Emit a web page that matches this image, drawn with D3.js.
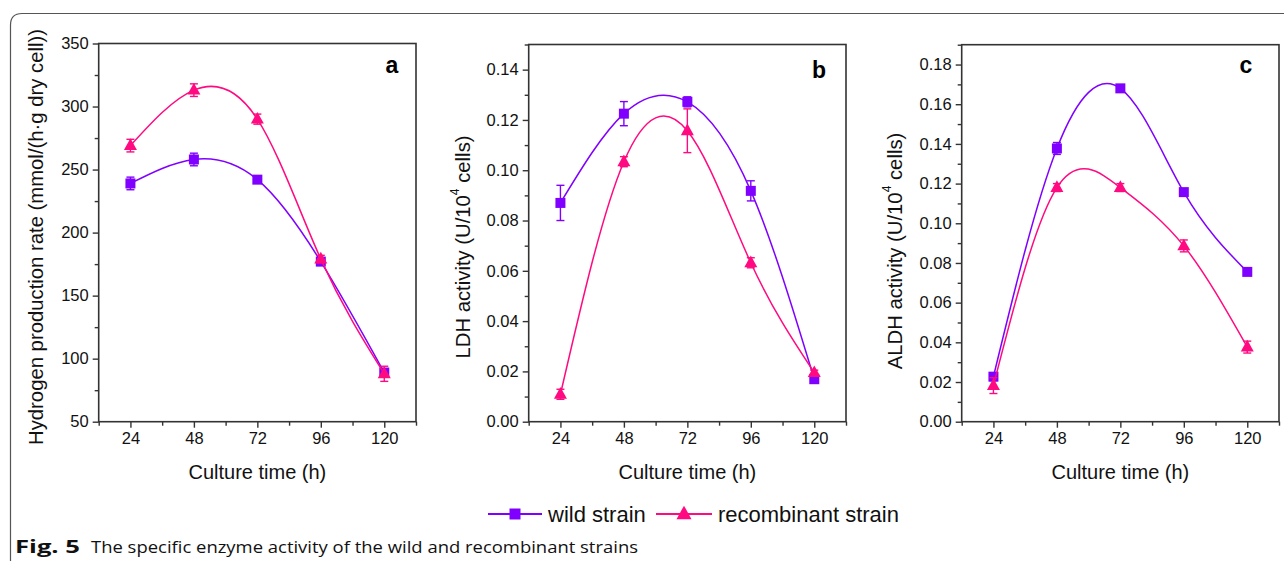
<!DOCTYPE html>
<html><head><meta charset="utf-8">
<script src="https://cdn.jsdelivr.net/npm/d3@7/dist/d3.min.js"></script>
<style>
html,body{margin:0;padding:0;background:#fff;}
svg{display:block;font-family:"Liberation Sans",Arial,sans-serif;}
</style></head>
<body>
<svg id="chart" width="1284" height="561"></svg>
<script>
// ---- data ----
const times = [24, 48, 72, 96, 120];
const xTickLabels = ["24", "48", "72", "96", "120"];
const seriesNames = ["wild strain", "recombinant strain"];

const h2Wild = [239, 258, 242, 177, 89];
const h2WildErr = [5, 5, 2, 3, 3];
const h2Rec = [269, 313, 290, 179, 88];
const h2RecErr = [5, 5, 4, 3, 6];

const ldhWild = [0.087, 0.1225, 0.1272, 0.0918, 0.0169];
const ldhWildErr = [0.007, 0.0048, 0.002, 0.004, 0.001];
const ldhRec = [0.0109, 0.1034, 0.1157, 0.0632, 0.0195];
const ldhRecErr = [0.002, 0.002, 0.0087, 0.002, 0.001];

const aldhWild = [0.0227, 0.1377, 0.168, 0.1157, 0.0755];
const aldhWildErr = [0.002, 0.003, 0.001, 0.001, 0.001];
const aldhRec = [0.0182, 0.118, 0.118, 0.0886, 0.0376];
const aldhRecErr = [0.004, 0.002, 0.002, 0.003, 0.003];

const yTicksA = [50, 100, 150, 200, 250, 300, 350];
const yTicksB = [0.00, 0.02, 0.04, 0.06, 0.08, 0.10, 0.12, 0.14];
const yTicksC = [0.00, 0.02, 0.04, 0.06, 0.08, 0.10, 0.12, 0.14, 0.16, 0.18];

// ---- styles ----
const WILD = "#8000ff", REC = "#ff0a80", AX = "#333";
const svg = d3.select("#chart");

// outer frame (rounded top-left corner, open to right/bottom)
svg.append("path")
  .attr("d", "M10.5,561 L10.5,25 Q10.5,13.5 22,13.5 L1284,13.5")
  .attr("fill", "none").attr("stroke", "#555").attr("stroke-width", 1.2);

const panels = [
  {x0: 98.7, x1: 416, y0: 43.5, y1: 421.7, dom: [50, 350], ticks: yTicksA, minor: d3.range(75, 350, 50), fmt: d => String(d),
   letter: "a", lx: 392, ly: 73, title: ["Hydrogen production rate (mmol/(h·g dry cell))"], tx: 36, ty: 237,
   wild: h2Wild, wErr: h2WildErr, rec: h2Rec, rErr: h2RecErr},
  {x0: 528.7, x1: 846, y0: 44.5, y1: 421.7, dom: [0, 0.15], ticks: yTicksB, minor: d3.range(0.01, 0.151, 0.02), fmt: d3.format(".2f"),
   letter: "b", lx: 819, ly: 78, title: ["LDH activity (U/10", "4", " cells)"], tx: 463, ty: 247,
   wild: ldhWild, wErr: ldhWildErr, rec: ldhRec, rErr: ldhRecErr},
  {x0: 961.7, x1: 1279, y0: 44.7, y1: 421.7, dom: [0, 0.19], ticks: yTicksC, minor: d3.range(0.01, 0.191, 0.02), fmt: d3.format(".2f"),
   letter: "c", lx: 1246, ly: 73, title: ["ALDH activity (U/10", "4", " cells)"], tx: 895, ty: 251,
   wild: aldhWild, wErr: aldhWildErr, rec: aldhRec, rErr: aldhRecErr}
];

function triPath(cx, cy, s) {
  const h = s * 0.9;
  return `M${cx},${cy - h*0.62} L${cx + s/2},${cy + h*0.38} L${cx - s/2},${cy + h*0.38} Z`;
}

panels.forEach(p => {
  const x = d3.scaleLinear().domain([12, 132]).range([p.x0, p.x1]);
  const y = d3.scaleLinear().domain(p.dom).range([p.y1, p.y0]);
  const g = svg.append("g");

  // x axis major
  const xa = g.append("g").attr("transform", `translate(0,${p.y1})`)
    .call(d3.axisBottom(x).tickValues(times).tickFormat((d, i) => xTickLabels[i]).tickSize(6).tickSizeOuter(0).tickPadding(5));
  xa.append("g").call(d3.axisBottom(x).tickValues(d3.range(12, 133, 24)).tickFormat("").tickSize(4).tickSizeOuter(0));
  // y axis major
  const ya = g.append("g").attr("transform", `translate(${p.x0},0)`)
    .call(d3.axisLeft(y).tickValues(p.ticks).tickFormat(p.fmt).tickSize(6).tickSizeOuter(0).tickPadding(4));
  ya.append("g").call(d3.axisLeft(y).tickValues(p.minor).tickFormat("").tickSize(4).tickSizeOuter(0));

  g.selectAll(".domain").remove();
  g.selectAll(".tick line").attr("stroke", AX).attr("stroke-width", 1.4);
  g.selectAll(".tick text").attr("fill", "#111").attr("font-size", 16.5).attr("font-family", "Liberation Sans, Arial, sans-serif");

  // box
  g.append("rect").attr("x", p.x0).attr("y", p.y0).attr("width", p.x1 - p.x0).attr("height", p.y1 - p.y0)
    .attr("fill", "none").attr("stroke", AX).attr("stroke-width", 1.6);

  // panel letter
  g.append("text").attr("x", p.lx).attr("y", p.ly).attr("text-anchor", "middle")
    .attr("font-size", 23).attr("font-weight", "bold").attr("fill", "#000").text(p.letter);

  // x title
  g.append("text").attr("x", (p.x0 + p.x1) / 2).attr("y", 479).attr("text-anchor", "middle")
    .attr("font-size", 20).attr("fill", "#111").text("Culture time (h)");

  // y title
  const yt = g.append("text").attr("transform", `translate(${p.tx},${p.ty}) rotate(-90)`)
    .attr("text-anchor", "middle").attr("dominant-baseline", "central").attr("font-size", 20.3).attr("fill", "#111");
  yt.append("tspan").text(p.title[0]);
  if (p.title.length > 1) {
    yt.append("tspan").attr("font-size", 12).attr("dy", -8).text(p.title[1]);
    yt.append("tspan").attr("dy", 8).text(p.title[2]);
  }

  const line = d3.line().x((d, i) => x(times[i])).y(d => y(d)).curve(d3.curveNatural);

  [[p.wild, p.wErr, WILD, "sq"], [p.rec, p.rErr, REC, "tri"]].forEach(([vals, errs, col, shape]) => {
    g.append("path").attr("d", line(vals)).attr("fill", "none").attr("stroke", col).attr("stroke-width", 1.5);
    const eb = g.append("g").attr("stroke", col).attr("stroke-width", 1.4);
    vals.forEach((v, i) => {
      const cx = x(times[i]);
      const yt2 = y(v + errs[i]), yb = y(v - errs[i]);
      eb.append("line").attr("x1", cx).attr("x2", cx).attr("y1", yt2).attr("y2", yb);
      eb.append("line").attr("x1", cx - 4).attr("x2", cx + 4).attr("y1", yt2).attr("y2", yt2);
      eb.append("line").attr("x1", cx - 4).attr("x2", cx + 4).attr("y1", yb).attr("y2", yb);
    });
    vals.forEach((v, i) => {
      const cx = x(times[i]), cy = y(v);
      if (shape === "sq") {
        g.append("rect").attr("x", cx - 5).attr("y", cy - 5).attr("width", 10).attr("height", 10).attr("fill", col);
      } else {
        g.append("path").attr("d", triPath(cx, cy, 13)).attr("fill", col);
      }
    });
  });
});

// legend
const lg = svg.append("g");
const legY = 514;
lg.append("line").attr("x1", 488).attr("x2", 542).attr("y1", legY).attr("y2", legY).attr("stroke", WILD).attr("stroke-width", 1.8);
lg.append("rect").attr("x", 515 - 5.5).attr("y", legY - 5.5).attr("width", 11).attr("height", 11).attr("fill", WILD);
lg.append("text").attr("x", 548).attr("y", legY).attr("dominant-baseline", "central").attr("font-size", 22).attr("fill", "#111").text(seriesNames[0]);
lg.append("line").attr("x1", 656).attr("x2", 712).attr("y1", legY).attr("y2", legY).attr("stroke", REC).attr("stroke-width", 1.8);
lg.append("path").attr("d", triPath(684, legY, 15)).attr("fill", REC);
lg.append("text").attr("x", 718).attr("y", legY).attr("dominant-baseline", "central").attr("font-size", 22).attr("fill", "#111").text(seriesNames[1]);

// caption
svg.append("text").attr("x", 15).attr("y", 553).attr("font-size", 17).attr("font-weight", "bold")
  .attr("font-family", "'Liberation Sans Narrow','Open Sans',sans-serif").attr("fill", "#111")
  .attr("textLength", 65).attr("lengthAdjust", "spacingAndGlyphs").text("Fig. 5");
svg.append("text").attr("x", 91).attr("y", 553).attr("font-size", 17)
  .attr("font-family", "'Liberation Sans Narrow','Open Sans',sans-serif").attr("fill", "#111")
  .attr("textLength", 547).attr("lengthAdjust", "spacingAndGlyphs").text("The specific enzyme activity of the wild and recombinant strains");
</script>
</body></html>
